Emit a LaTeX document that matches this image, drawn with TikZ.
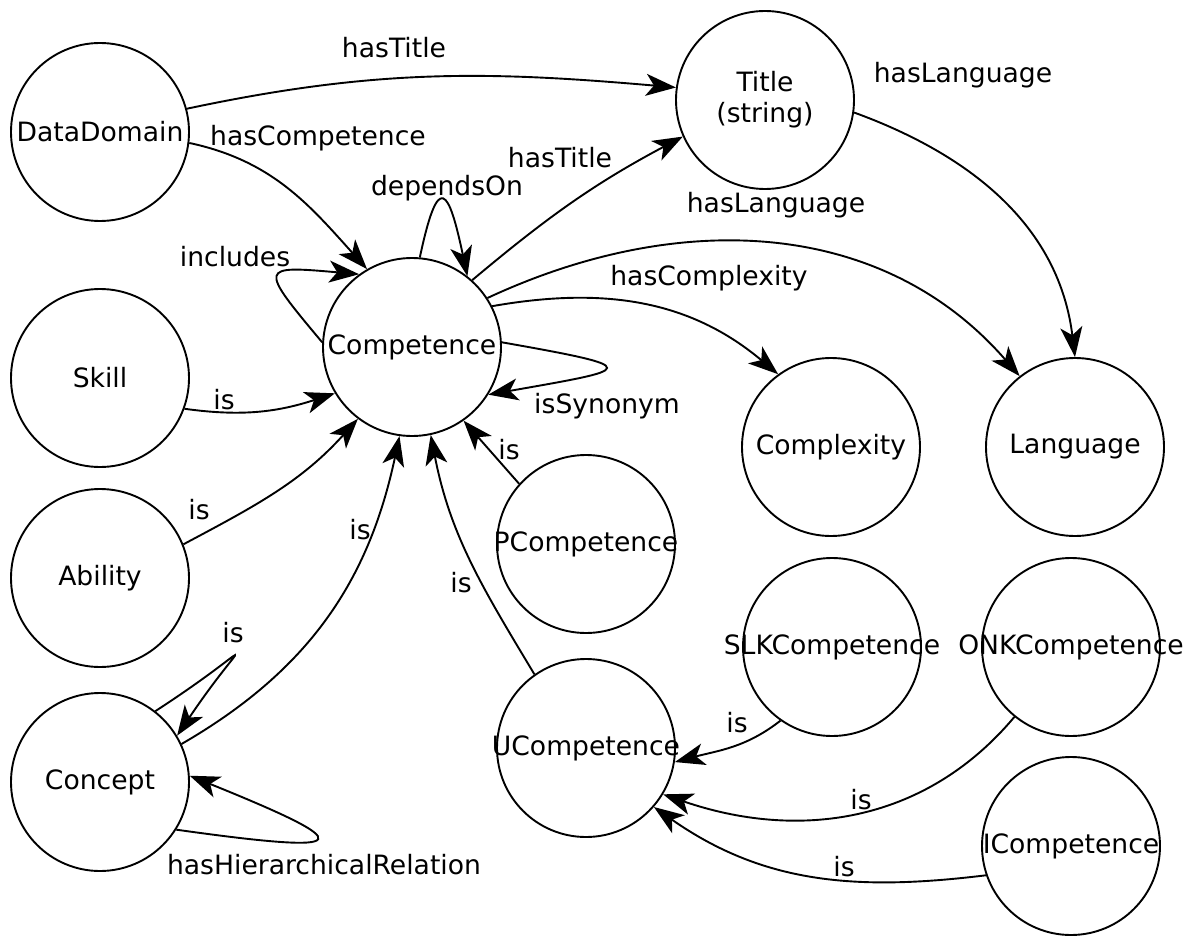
\documentclass[tikz,border=0pt]{standalone}
\usepackage{fontspec}
\setmainfont{DejaVu Sans}
\usetikzlibrary{arrows.meta}

\begin{document}
\begin{tikzpicture}
[
    x=0.5pt, y=-0.5pt,
    every node/.style={font=\fontsize{13.3}{15.5}\selectfont},
    entity/.style={circle, draw, line width=0.95pt, minimum size=89pt, inner sep=0pt},
    link/.style={-{Stealth[length=15pt,width=11pt,inset=4pt]}, line width=0.95pt},
    rel/.style={inner sep=0pt},
]
\useasboundingbox (0,0) rectangle (1188,936);
% classes
\node[entity, label=center:DataDomain] (dd) at (100,132) {};
\node[entity, label=center:Skill] (skill) at (100,378) {};
\node[entity, label=center:Ability] (abil) at (100,578) {};
\node[entity, label=center:Concept] (cncp) at (100,782) {};
\node[entity, label=center:Competence] (comp) at (412,347) {};
\node[entity, label={[align=center]center:Title\\(string)}] (title) at (765,100) {};
\node[entity, label=center:Complexity] (cplx) at (831,447) {};
\node[entity, label=center:Language] (lang) at (1075,447) {};
\node[entity, label=center:PCompetence] (pcomp) at (586,544) {};
\node[entity, label=center:UCompetence] (ucomp) at (586,748) {};
\node[entity, label=center:SLKCompetence] (slk) at (832,647) {};
\node[entity, label=center:ONKCompetence] (onk) at (1071,647) {};
\node[entity, label=center:ICompetence] (icomp) at (1071,846) {};
% relations
\draw[link] (dd.15) to[out=12, in=175] (title.172);
\draw[link] (dd.-7) to[out=-12, in=132] (comp.120);
\draw[link] (comp.85) to[out=78, in=102, looseness=4.5] (comp.52);
\draw[link] (comp.177) to[out=130, in=175, looseness=3.3] (comp.126);
\draw[link] (comp.3) to[out=-10, in=10, looseness=7] (comp.-32);
\draw[link] (comp.48) to[out=40, in=208] (title.204);
\draw[link] (comp.33) to[out=25, in=131] (lang.128);
\draw[link] (comp.27) to[out=10, in=140] (cplx.126);
\draw[link] (title.-8) to[out=-20, in=97] (lang.90);
\draw[link] (skill.-20) to[out=-8, in=198] (comp.211);
\draw[link] (abil.22) to[out=28, in=228] (comp.233);
\draw[link] (cncp.25) to[out=30, in=258] (comp.262);
\draw[link] (cncp.52) to[out=33, in=56, looseness=10] (cncp.31);
\draw[link] (cncp.-32) to[out=-8, in=-22, looseness=8.5] (cncp.4);
\draw[link] (ucomp.125) to[out=121, in=281] (comp.282);
\draw[link] (pcomp.138) -- (comp.305);
\draw[link] (slk.235) to[out=218, in=15] (ucomp.-9);
\draw[link] (onk.231) to[out=230, in=341] (ucomp.-31);
\draw[link] (icomp.199) to[out=187, in=325] (ucomp.-41);
% relation labels
\node[rel] (r-dd-title) at (394,48) {hasTitle};
\node[rel] (r-dd-comp) at (318,138) {hasCompetence};
\node[rel] (r-dep) at (447,188) {dependsOn};
\node[rel] (r-inc) at (235,257) {includes};
\node[rel] (r-syn) at (607,406) {isSynonym};
\node[rel] (r-comp-title) at (560,158) {hasTitle};
\node[rel] (r-comp-lang) at (776,205) {hasLanguage};
\node[rel] (r-cplx) at (709,278) {hasComplexity};
\node[rel] (r-title-lang) at (963,75) {hasLanguage};
\node[rel] (r-skill) at (224,400) {is};
\node[rel] (r-abil) at (199,510) {is};
\node[rel] (r-cncp) at (360,530) {is};
\node[rel] (r-cncp-is) at (233,633) {is};
\node[rel] (r-hier) at (324,865) {hasHierarchicalRelation};
\node[rel] (r-ucomp) at (461,583) {is};
\node[rel] (r-pcomp) at (509,450) {is};
\node[rel] (r-slk) at (737,723) {is};
\node[rel] (r-onk) at (861,800) {is};
\node[rel] (r-icomp) at (844,867) {is};
\end{tikzpicture}
\end{document}
